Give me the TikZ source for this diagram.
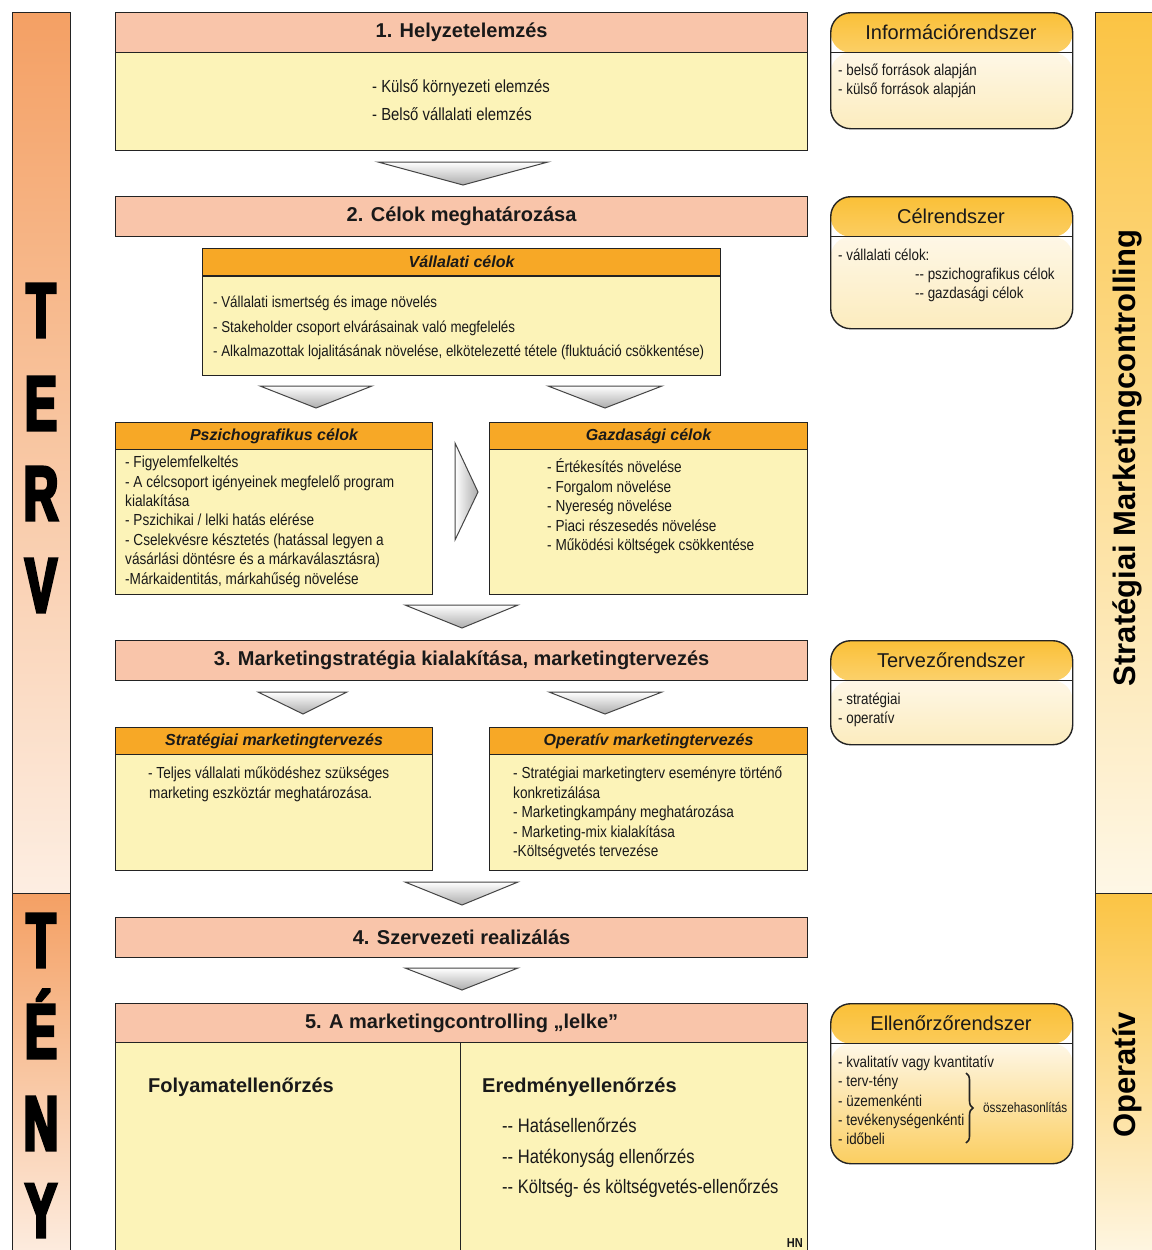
\documentclass[tikz,border=0pt]{standalone}
\usepackage{fontspec}
\setmainfont{Liberation Sans}
\newfontfamily\narrowf[FakeStretch=0.85]{Liberation Sans}
\newfontfamily\bigf[FakeStretch=0.62,FakeBold=4]{Liberation Sans Bold}
\usetikzlibrary{decorations.pathreplacing}
\definecolor{salmon}{RGB}{249,197,170}
\definecolor{pale}{RGB}{252,243,184}
\definecolor{orng}{RGB}{247,168,38}
\definecolor{edge}{RGB}{35,35,35}
\definecolor{ink}{RGB}{25,25,25}
\definecolor{lbtop}{RGB}{244,160,100}
\definecolor{lbbot}{RGB}{253,238,226}
\definecolor{rbtop}{RGB}{251,196,68}
\definecolor{rbbot}{RGB}{254,247,230}
\definecolor{hdtop}{RGB}{250,192,56}
\definecolor{hdbot}{RGB}{254,236,190}
\definecolor{bdtop}{RGB}{254,247,230}
\definecolor{bdbot}{RGB}{252,236,190}
\definecolor{bdbotb}{RGB}{251,206,96}
\tikzset{
  hdr/.style={draw=edge, line width=1.2pt, fill=salmon, anchor=north west, minimum width=692pt, minimum height=40pt, inner sep=0pt, text=ink, font=\fontsize{20}{22}\selectfont\bfseries},
  bodybox/.style={draw=edge, line width=1.2pt, fill=pale, anchor=north west, inner sep=0pt},
  subhdr/.style={draw=edge, line width=1.2pt, fill=orng, anchor=north west, inner sep=0pt, minimum height=27pt, text=ink, font=\fontsize{16}{18}\selectfont\bfseries\itshape},
  tline/.style={anchor=west, inner sep=0pt, text depth=0pt, text=ink},
  t155/.style={tline, text height=11.2pt, font=\narrowf\fontsize{15.7}{17}\selectfont},
  t16/.style={tline, text height=11.4pt, font=\narrowf\fontsize{16}{18}\selectfont},
  t18/.style={tline, text height=12.8pt, font=\narrowf\fontsize{17.5}{20}\selectfont},
  t19/.style={tline, text height=13.6pt, font=\narrowf\fontsize{19.5}{22}\selectfont},
  tb20/.style={tline, text height=14.3pt, font=\fontsize{20}{22}\selectfont\bfseries},
  rtitle/.style={inner sep=0pt, text=ink, font=\fontsize{20}{22}\selectfont},
  bigl/.style={anchor=base, inner sep=0pt, text=black, font=\bigf\fontsize{77}{77}\selectfont},
  barlbl/.style={rotate=90, inner sep=0pt, text=black, text height=22pt, text depth=0pt, font=\fontsize{31}{33}\selectfont\bfseries},
  chev/.style={draw=edge!85, line width=1pt, top color=white, bottom color=gray!65},
  rbox/.style={draw=edge, line width=1.4pt, rounded corners=20pt, anchor=north west, minimum width=242pt, inner sep=0pt,
    path picture={
      \shade[top color=hdtop, bottom color=hdbot] (path picture bounding box.north west) rectangle ([yshift=-40pt]path picture bounding box.north east);
      \shade[top color=bdtop, bottom color=#1] ([yshift=-40pt]path picture bounding box.north west) rectangle (path picture bounding box.south east);
      \draw[edge, line width=1.4pt] ([yshift=-40pt]path picture bounding box.north west) -- ([yshift=-40pt]path picture bounding box.north east);
    }},
}
\begin{document}
\begin{tikzpicture}[x=1pt,y=-1pt]
\useasboundingbox (0,0) rectangle (1151,1250);
\fill[white] (0,0) rectangle (1151,1250);

% left bar
\node[draw=edge, line width=1.2pt, top color=lbtop, bottom color=lbbot, anchor=north west, minimum width=58pt, minimum height=881pt, inner sep=0pt] (lbar1) at (12,12) {};
\node[draw=edge, line width=1.2pt, top color=lbtop, bottom color=lbbot, anchor=north west, minimum width=58pt, minimum height=370pt, inner sep=0pt] (lbar2) at (12,893) {};
\node[bigl] (lT) at (41,337) {T};
\node[bigl] (lE) at (41,430) {E};
\node[bigl] (lR) at (41,520) {R};
\node[bigl] (lV) at (41,612) {V};
\node[bigl] (lT2) at (41,967) {T};
\node[bigl] (lE2) at (41,1058) {É};
\node[bigl] (lN) at (41,1150) {N};
\node[bigl] (lY) at (41,1237) {Y};

% right bar
\node[draw=edge, line width=1.2pt, top color=rbtop, bottom color=rbbot, anchor=north west, minimum width=70pt, minimum height=881pt, inner sep=0pt] (rbar1) at (1095,12) {};
\node[draw=edge, line width=1.2pt, top color=rbtop, bottom color=rbbot, anchor=north west, minimum width=70pt, minimum height=370pt, inner sep=0pt] (rbar2) at (1095,893) {};
\node[barlbl] (rlab1) at (1124,458) {Stratégiai Marketingcontrolling};
\node[barlbl] (rlab2) at (1124,1075) {Operatív};

% 1
\node[hdr] (h1) at (115,12) {1. Helyzetelemzés};
\node[bodybox, minimum width=692pt, minimum height=98pt] (b1) at (115,52) {};
\node[t18] (b1a) at (372,86) {- Külső környezeti elemzés};
\node[t18] (b1b) at (372,114) {- Belső vállalati elemzés};
\path[chev] (378,162) -- (548,162) -- (463,185) -- cycle;

% 2
\node[hdr] (h2) at (115,196) {2. Célok meghatározása};
\node[subhdr, minimum width=518pt] (vh) at (202,248) {Vállalati célok};
\node[bodybox, minimum width=518pt, minimum height=99pt] (vb) at (202,276) {};
\foreach \t [count=\i from 0] in {{- Vállalati ismertség és image növelés},{- Stakeholder csoport elvárásainak való megfelelés},{- Alkalmazottak lojalitásának növelése, elkötelezetté tétele (fluktuáció csökkentése)}}
  \node[t155] (v\i) at (213,{302+24.5*\i}) {\t};
\path[chev] (260,386) -- (372,386) -- (316,408) -- cycle;
\path[chev] (548,386) -- (662,386) -- (605,408) -- cycle;

\node[subhdr, minimum width=317pt] (ph) at (115,422) {Pszichografikus célok};
\node[bodybox, minimum width=317pt, minimum height=145pt] (pb) at (115,449) {};
\foreach \t [count=\i from 0] in {{- Figyelemfelkeltés},{- A célcsoport igényeinek megfelelő program},{kialakítása},{- Pszichikai / lelki hatás elérése},{- Cselekvésre késztetés (hatással legyen a},{vásárlási döntésre és a márkaválasztásra)},{-Márkaidentitás, márkahűség növelése}}
  \node[t16] (p\i) at (125,{462+19.4*\i}) {\t};

\node[subhdr, minimum width=318pt] (gh) at (489,422) {Gazdasági célok};
\node[bodybox, minimum width=318pt, minimum height=145pt] (gb) at (489,449) {};
\foreach \t [count=\i from 0] in {{- Értékesítés növelése},{- Forgalom növelése},{- Nyereség növelése},{- Piaci részesedés növelése},{- Működési költségek csökkentése}}
  \node[t16] (g\i) at (547,{467+19.5*\i}) {\t};
\path[draw=edge!85, line width=1pt, left color=white, right color=gray!65] (455,443) -- (478,492) -- (455,540) -- cycle;
\path[chev] (405,605) -- (518,605) -- (462,628) -- cycle;

% 3
\node[hdr] (h3) at (115,640) {3. Marketingstratégia kialakítása, marketingtervezés};
\path[chev] (258,692) -- (347,692) -- (303,714) -- cycle;
\path[chev] (549,692) -- (662,692) -- (605,714) -- cycle;
\node[subhdr, minimum width=317pt] (sh) at (115,727) {Stratégiai marketingtervezés};
\node[bodybox, minimum width=317pt, minimum height=116pt] (sb) at (115,754) {};
\node[t16] (s0) at (148,773) {- Teljes vállalati működéshez szükséges};
\node[t16] (s1) at (149,793) {marketing eszköztár meghatározása.};
\node[subhdr, minimum width=318pt] (oh) at (489,727) {Operatív marketingtervezés};
\node[bodybox, minimum width=318pt, minimum height=116pt] (ob) at (489,754) {};
\foreach \t [count=\i from 0] in {{- Stratégiai marketingterv eseményre történő},{konkretizálása},{- Marketingkampány meghatározása},{- Marketing-mix kialakítása},{-Költségvetés tervezése}}
  \node[t16] (o\i) at (513,{773+19.5*\i}) {\t};
\path[chev] (405,882) -- (518,882) -- (462,905) -- cycle;

% 4
\node[hdr] (h4) at (115,917) {4. Szervezeti realizálás};
\path[chev] (405,968) -- (518,968) -- (462,990) -- cycle;

% 5
\node[hdr] (h5) at (115,1003) {5. A marketingcontrolling „lelke”};
\node[bodybox, minimum width=345pt, minimum height=220pt] (b5l) at (115,1042) {};
\node[bodybox, minimum width=347pt, minimum height=220pt] (b5r) at (460,1042) {};
\node[tb20] (fo) at (148,1085) {Folyamatellenőrzés};
\node[tb20] (er) at (482,1085) {Eredményellenőrzés};
\foreach \t [count=\i from 0] in {{-- Hatásellenőrzés},{-- Hatékonyság ellenőrzés},{-- Költség- és költségvetés-ellenőrzés}}
  \node[t19] (e\i) at (502,{1126+30.5*\i}) {\t};
\node[anchor=base east, inner sep=0pt, text=ink, font=\narrowf\fontsize{13}{14}\selectfont\bfseries] (hn) at (803,1247) {HN};

% right boxes
\node[rbox=bdbot, minimum height=116pt] (info) at (830,12) {};
\node[rtitle] (infot) at (951,32) {Információrendszer};
\node[t155] (i0) at (838,70) {- belső források alapján};
\node[t155] (i1) at (838,89) {- külső források alapján};

\node[rbox=bdbot, minimum height=132pt] (cel) at (830,196) {};
\node[rtitle] (celt) at (951,216) {Célrendszer};
\node[t155] (c0) at (838,255) {- vállalati célok:};
\node[t155] (c1) at (915,274) {-- pszichografikus célok};
\node[t155] (c2) at (915,293) {-- gazdasági célok};

\node[rbox=bdbot, minimum height=104pt] (terv) at (830,640) {};
\node[rtitle] (tervt) at (951,660) {Tervezőrendszer};
\node[t155] (tr0) at (838,699) {- stratégiai};
\node[t155] (tr1) at (838,718) {- operatív};

\node[rbox=bdbotb, minimum height=160pt] (ell) at (830,1003) {};
\node[rtitle] (ellt) at (951,1023) {Ellenőrzőrendszer};
\foreach \t [count=\i from 0] in {{- kvalitatív vagy kvantitatív},{- terv-tény},{- üzemenkénti},{- tevékenységenkénti},{- időbeli}}
  \node[t155] (l\i) at (838,{1062+19.3*\i}) {\t};
\draw[edge, line width=1.6pt, decorate, decoration={brace, amplitude=7pt}] (966,1073) -- (966,1143);
\node[tline, text height=9.8pt, font=\narrowf\fontsize{13.8}{15}\selectfont] (ossz) at (983,1108) {összehasonlítás};
\end{tikzpicture}
\end{document}
